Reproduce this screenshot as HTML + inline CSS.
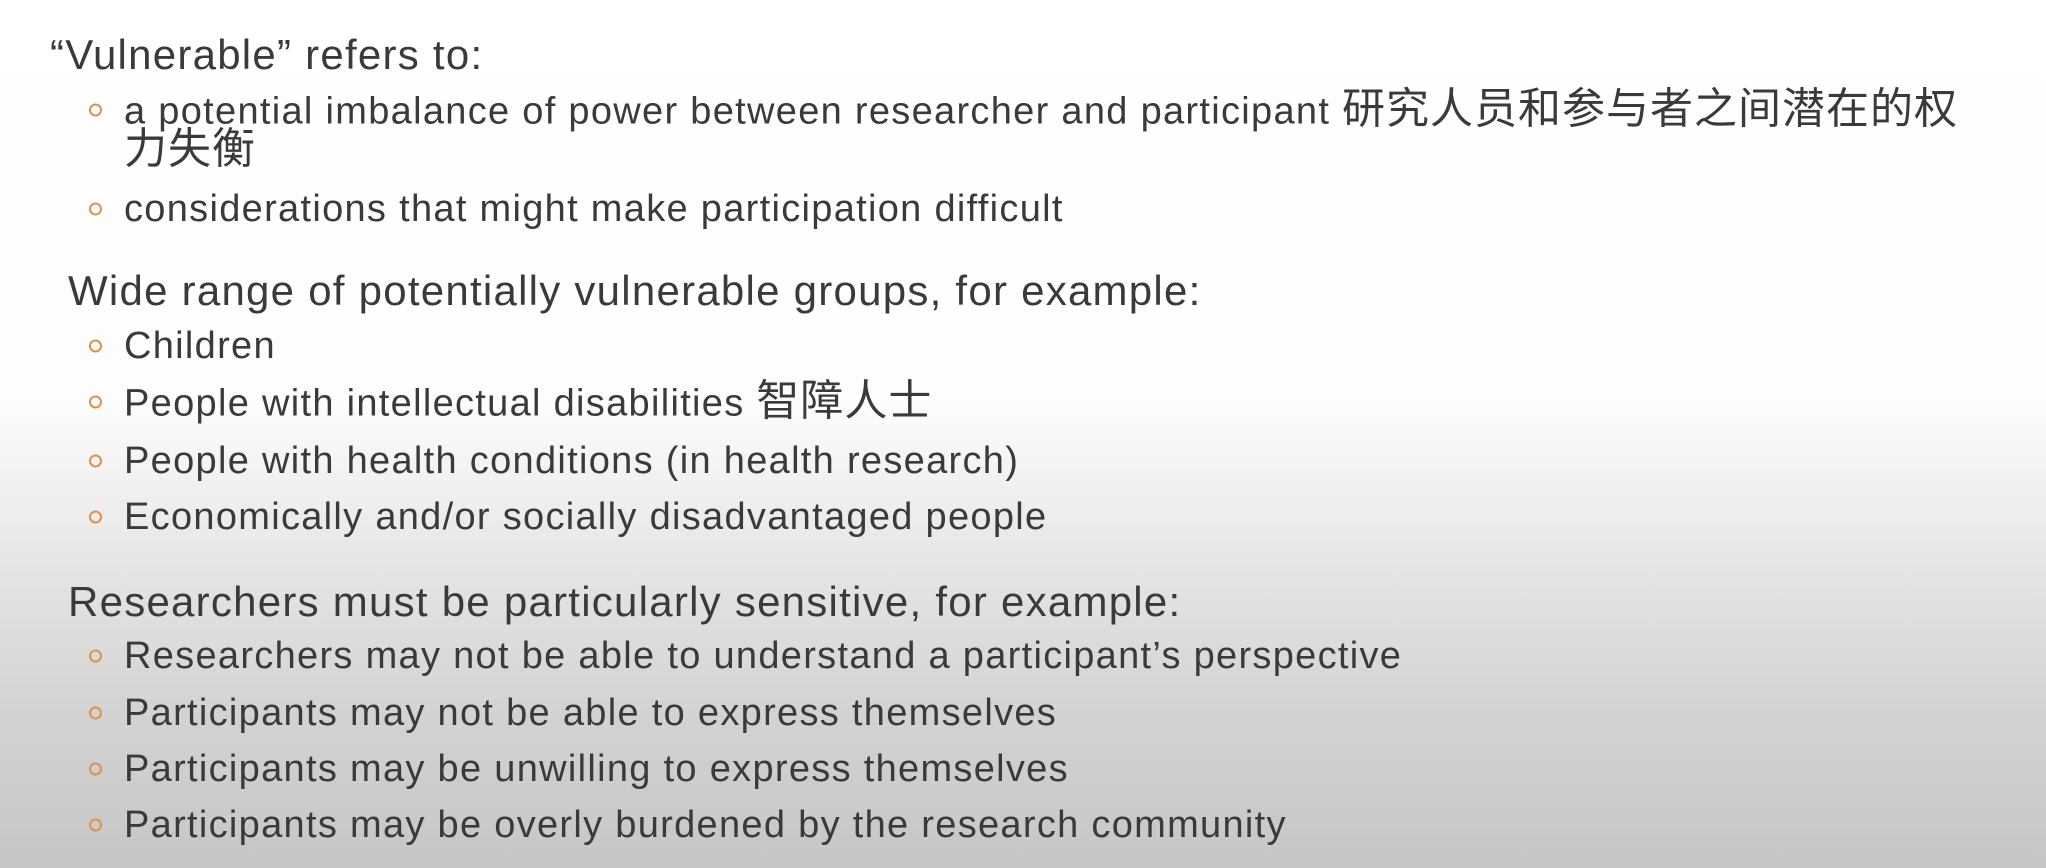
<!DOCTYPE html>
<html><head><meta charset="utf-8"><style>
html,body{margin:0;padding:0}
body{width:2046px;height:868px;overflow:hidden;position:relative;
background:linear-gradient(to bottom,#ffffff 0px,#fdfdfd 400px,#e6e6e6 560px,#d2d2d2 720px,#c6c6c6 868px);
font-family:"Liberation Sans","Noto Sans CJK SC",sans-serif;color:#3a3a3a}
.l{position:absolute;white-space:nowrap;line-height:1;transform:translateY(-50%)}
.h{font-size:42px;letter-spacing:1.25px}
.b{font-size:38px;letter-spacing:1.3px;left:124px}
.c{font-size:43px;letter-spacing:1px}
.dot{position:absolute;left:89px;width:9px;height:9px;border:2.5px solid #e0924a;border-radius:50%;transform:translateY(-50%)}
</style></head><body>
<div class="l h" style="left:50px;top:55px">“Vulnerable” refers to:</div>
<div class="dot" style="top:110px"></div>
<div class="l b" style="top:110px">a potential imbalance of power between researcher and participant <span class="c">研究人员和参与者之间潜在的权</span></div>
<div class="l b" style="top:150px"><span class="c">力失衡</span></div>
<div class="dot" style="top:209px"></div>
<div class="l b" style="top:209px">considerations that might make participation difficult</div>

<div class="l h" style="left:68px;top:291px">Wide range of potentially vulnerable groups, for example:</div>
<div class="dot" style="top:346px"></div>
<div class="l b" style="top:346px">Children</div>
<div class="dot" style="top:402px"></div>
<div class="l b" style="top:402px">People with intellectual disabilities <span class="c">智障人士</span></div>
<div class="dot" style="top:461px"></div>
<div class="l b" style="top:461px">People with health conditions (in health research)</div>
<div class="dot" style="top:517px"></div>
<div class="l b" style="top:517px">Economically and/or socially disadvantaged people</div>

<div class="l h" style="left:68px;top:602px">Researchers must be particularly sensitive, for example:</div>
<div class="dot" style="top:656px"></div>
<div class="l b" style="top:656px">Researchers may not be able to understand a participant’s perspective</div>
<div class="dot" style="top:713px"></div>
<div class="l b" style="top:713px">Participants may not be able to express themselves</div>
<div class="dot" style="top:769px"></div>
<div class="l b" style="top:769px">Participants may be unwilling to express themselves</div>
<div class="dot" style="top:825px"></div>
<div class="l b" style="top:825px">Participants may be overly burdened by the research community</div>
</body></html>
